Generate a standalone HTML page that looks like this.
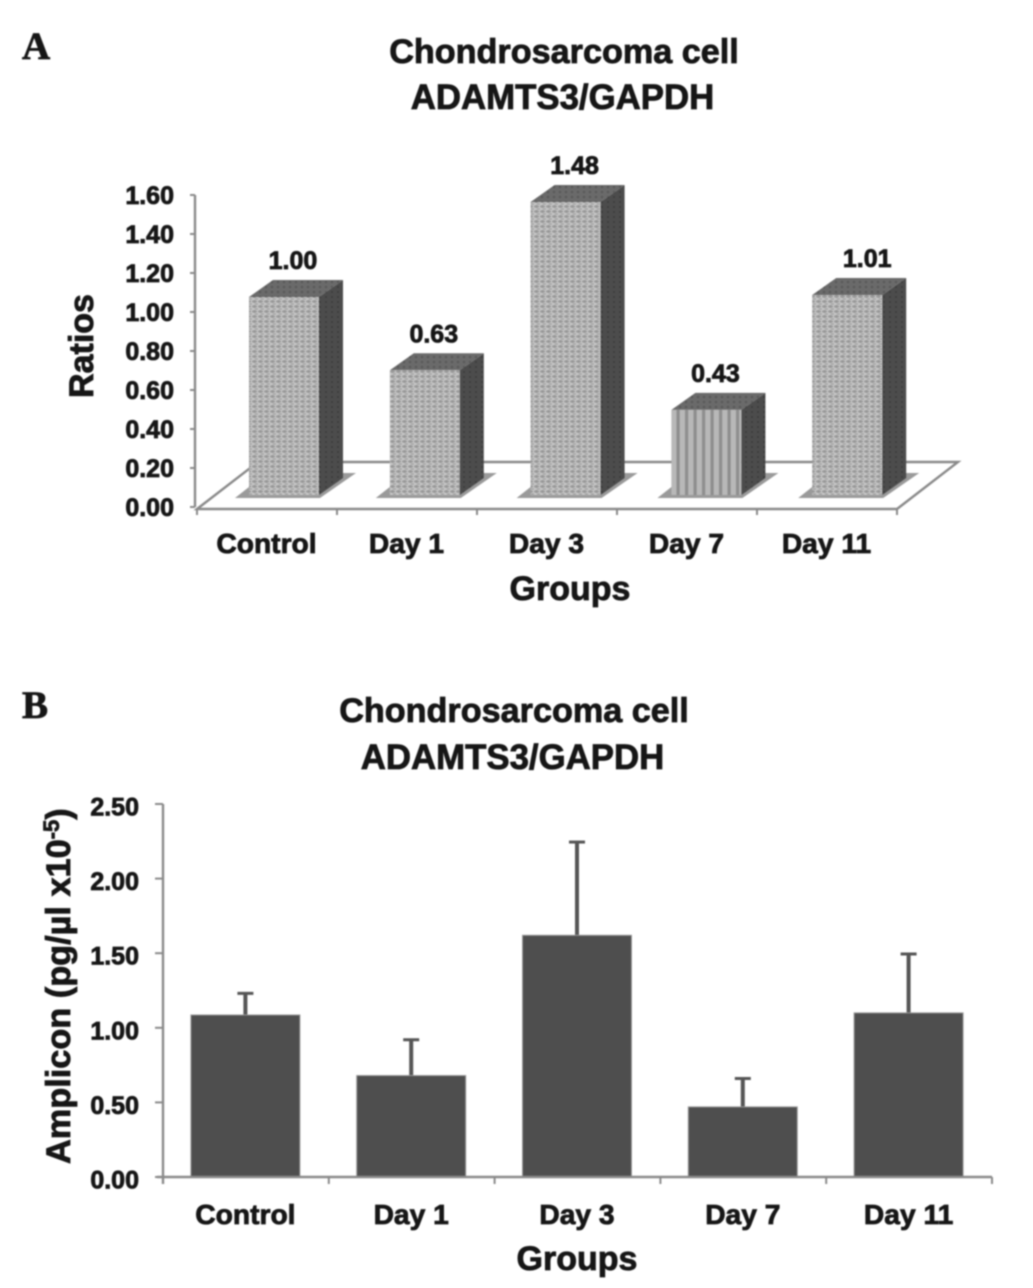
<!DOCTYPE html>
<html lang="en">
<head>
<meta charset="utf-8">
<title>Chondrosarcoma cell ADAMTS3/GAPDH</title>
<style>
html,body{margin:0;padding:0;background:#fff;width:1033px;height:1288px;overflow:hidden}
#fig{display:block;filter:blur(0.7px)}
text{font-family:"Liberation Sans",sans-serif;font-weight:bold;fill:#161616;stroke:#161616;stroke-width:.8px}
</style>
</head>
<body>
<svg id="fig" xmlns="http://www.w3.org/2000/svg" width="1033" height="1288" viewBox="0 0 1033 1288">
<defs>
<pattern id="weave" width="6" height="5" patternUnits="userSpaceOnUse">
<rect width="6" height="5" fill="#c6c6c6"/>
<path d="M0 1l2-1h1l2 1v1l-2 1h-1l-2-1zM3 3.5h3v1h-3z" fill="#989898"/>
</pattern>
<pattern id="stripes" width="8.5" height="10" patternUnits="userSpaceOnUse">
<rect width="8.5" height="10" fill="#b8b8b8"/>
<rect x="5" width="3.2" height="10" fill="#8e8e8e"/>
</pattern>
<pattern id="top-weave" width="6" height="5" patternUnits="userSpaceOnUse">
<rect width="6" height="5" fill="#6a6a6a"/>
<rect x="1" y="1" width="2" height="2" fill="#565656"/>
</pattern>
<pattern id="side-weave" width="6" height="5" patternUnits="userSpaceOnUse">
<rect width="6" height="5" fill="#4c4c4c"/>
<rect x="1" y="1" width="2" height="2" fill="#3e3e3e"/>
</pattern>
</defs>
<g id="panel-a"></g>
<g id="panel-b"></g>
</svg>
<script>
const categories = ["Control", "Day 1", "Day 3", "Day 7", "Day 11"];
const ratios = [1.00, 0.63, 1.48, 0.43, 1.01];
const ratioLabels = ["1.00", "0.63", "1.48", "0.43", "1.01"];
const ratioTicks = [0, 0.2, 0.4, 0.6, 0.8, 1.0, 1.2, 1.4, 1.6];
const amplicon = [1.086, 0.68, 1.62, 0.47, 1.10];
const ampliconError = [0.145, 0.24, 0.625, 0.19, 0.395];
const ampliconTicks = [0, 0.5, 1.0, 1.5, 2.0, 2.5];

const NS = "http://www.w3.org/2000/svg";
function mk(parent, tag, attrs, content) {
  const e = document.createElementNS(NS, tag);
  for (const k in attrs) e.setAttribute(k, attrs[k]);
  if (content !== undefined) e.textContent = content;
  parent.appendChild(e);
  return e;
}
const AXIS = "#8a8a8a";
const pa = document.getElementById("panel-a");
const pb = document.getElementById("panel-b");

/* ---------- Panel A ---------- */
const yA = v => 507 - v * 195;                 // axis scale
const hA = v => v * 198;                       // bar height on floor
const barXA = i => 249 + i * 140.8;
const tickXA = i => 197 + i * 140;
const BASE_A = 495, W_A = 70, DX = 24, DY = 17;

let t;
t = mk(pa, "text", {x: 22, y: 59, "font-size": 39, style: 'font-family:"Liberation Serif",serif'}, "A");


t = mk(pa, "text", {x: 564, y: 63, "font-size": 34.2, "text-anchor": "middle"}, "Chondrosarcoma cell");


t = mk(pa, "text", {x: 562.5, y: 109, "font-size": 34.8, "text-anchor": "middle"}, "ADAMTS3/GAPDH");



const floor = mk(pa, "polygon", {points: "197,509 258,462 958,462 897,509", fill: "#fff", stroke: AXIS, "stroke-width": 2.4});



const yAxisA = mk(pa, "line", {x1: 195, y1: yA(1.6), x2: 195, y2: yA(0), stroke: AXIS, "stroke-width": 2.4});



ratioTicks.forEach(v => {
  const m = mk(pa, "line", {x1: 190, y1: yA(v), x2: 195, y2: yA(v), stroke: AXIS, "stroke-width": 2});
  
  
  const l = mk(pa, "text", {x: 174, y: yA(v) + 9, "font-size": 25, "text-anchor": "end"}, v.toFixed(2));
  
  
});

categories.forEach((c, i) => {
  const m = mk(pa, "line", {x1: tickXA(i), y1: 509, x2: tickXA(i), y2: 515, stroke: AXIS, "stroke-width": 2});
  
  
  const l = mk(pa, "text", {x: tickXA(i) + 69.5, y: 553, "font-size": 28.2, "text-anchor": "middle"}, c);
  
  
});
const lastTick = mk(pa, "line", {x1: tickXA(5), y1: 509, x2: tickXA(5), y2: 515, stroke: AXIS, "stroke-width": 2});



ratios.forEach((v, i) => {
  const x = barXA(i), top = BASE_A - hA(v), r = x + W_A;
  const sh = mk(pa, "polygon", {points: `${x-14},${BASE_A+3} ${r+1},${BASE_A+3} ${r+37},${BASE_A-22} ${r},${BASE_A-22} ${x},${BASE_A-8}`, fill: "#9a9a9a"});
  
  
  const side = mk(pa, "polygon", {points: `${r},${top} ${r+DX},${top-DY} ${r+DX},${BASE_A-DY} ${r},${BASE_A}`, fill: "url(#side-weave)"});
  
  
  const cap = mk(pa, "polygon", {points: `${x},${top} ${x+DX},${top-DY} ${r+DX},${top-DY} ${r},${top}`, fill: "url(#top-weave)"});
  
  
  const front = mk(pa, "rect", {x: x, y: top, width: W_A, height: hA(v), fill: i === 3 ? "url(#stripes)" : "url(#weave)"});
  
  
  const nudge = i === 4 ? 55 : 44;
  const l = mk(pa, "text", {x: x + nudge, y: top - 28, "font-size": 25, "text-anchor": "middle"}, ratioLabels[i]);
  
  
});

t = mk(pa, "text", {x: 0, y: 0, "font-size": 34, "text-anchor": "middle", transform: "translate(93,346) rotate(-90)"}, "Ratios");


t = mk(pa, "text", {x: 570, y: 600, "font-size": 34, "text-anchor": "middle"}, "Groups");



/* ---------- Panel B ---------- */
const yB = v => 1177 - v * 149.2;
const stepB = 165.8;
const xB = i => 163 + stepB * i;
const BW = 109;

t = mk(pb, "text", {x: 22, y: 718, "font-size": 39, style: 'font-family:"Liberation Serif",serif'}, "B");


t = mk(pb, "text", {x: 514, y: 722, "font-size": 34.2, "text-anchor": "middle"}, "Chondrosarcoma cell");


t = mk(pb, "text", {x: 512.5, y: 769, "font-size": 34.8, "text-anchor": "middle"}, "ADAMTS3/GAPDH");



amplicon.forEach((v, i) => {
  const cx = xB(i) + stepB / 2 - 0.5;
  const stem = mk(pb, "line", {x1: cx, y1: yB(v), x2: cx, y2: yB(v + ampliconError[i]), stroke: "#555", "stroke-width": 4});
  
  
  const capB = mk(pb, "line", {x1: cx - 8, y1: yB(v + ampliconError[i]), x2: cx + 8, y2: yB(v + ampliconError[i]), stroke: "#555", "stroke-width": 3});
  
  
  const bar = mk(pb, "rect", {x: cx - BW / 2, y: yB(v), width: BW, height: v * 149.2, fill: "#4e4e4e", stroke: "#9a9a9a", "stroke-width": 1});
  
  
  const l = mk(pb, "text", {x: cx, y: 1224, "font-size": 28.2, "text-anchor": "middle"}, categories[i]);
  
  
});

const xAxisB = mk(pb, "line", {x1: 157, y1: 1177, x2: 992, y2: 1177, stroke: AXIS, "stroke-width": 2.4});


const yAxisB = mk(pb, "line", {x1: 163, y1: yB(2.5), x2: 163, y2: 1184, stroke: AXIS, "stroke-width": 2.4});



ampliconTicks.forEach(v => {
  const m = mk(pb, "line", {x1: 155, y1: yB(v), x2: 163, y2: yB(v), stroke: AXIS, "stroke-width": 2});
  
  
  const l = mk(pb, "text", {x: 139, y: yB(v) + 11.5, "font-size": 25, "text-anchor": "end"}, v.toFixed(2));
  
  
});
for (let i = 1; i <= 5; i++) {
  const m = mk(pb, "line", {x1: xB(i), y1: 1177, x2: xB(i), y2: 1184, stroke: AXIS, "stroke-width": 2});
  
  
}

const yTitleB = mk(pb, "text", {"font-size": 34.3, transform: "translate(70,1164) rotate(-90)"});


mk(yTitleB, "tspan", {}, "Amplicon (pg/µl x10");
mk(yTitleB, "tspan", {dy: -11, "font-size": 22}, "-5");
mk(yTitleB, "tspan", {dy: 11}, ")");

t = mk(pb, "text", {x: 577, y: 1270, "font-size": 34, "text-anchor": "middle"}, "Groups");


</script>
</body>
</html>
